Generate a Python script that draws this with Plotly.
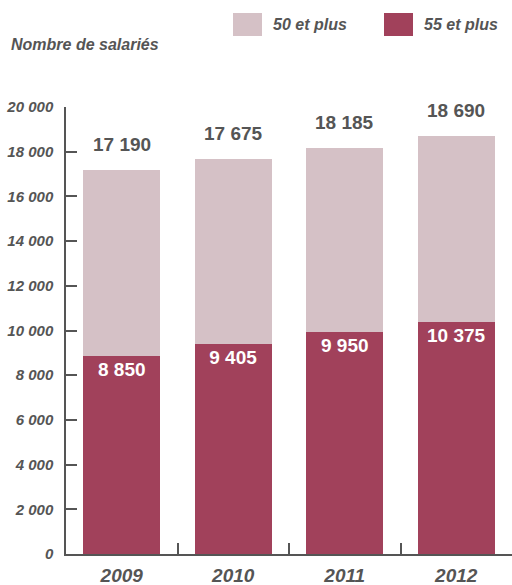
import plotly.graph_objects as go

years = ["2009", "2010", "2011", "2012"]
plus55 = [8850, 9405, 9950, 10375]
plus50 = [17190, 17675, 18185, 18690]
ytick_vals = list(range(0, 20001, 2000))
ytick_text = ["0", "2 000", "4 000", "6 000", "8 000", "10 000", "12 000",
              "14 000", "16 000", "18 000", "20 000"]

def fmt(v):
    return f"{v:,}".replace(",", " ")

DARK = "#a1415b"
LIGHT = "#d5c1c6"
GRAY = "#555555"
FONT = "Liberation Sans, Arial, sans-serif"

W, H = 512, 585
L, R, T, B = 66, 0, 107, 31
PW, PH = W - L - R, H - T - B

def px(x):
    return (x - L) / PW

def py(y):
    return (H - B - y) / PH

top_seg = [t - b for t, b in zip(plus50, plus55)]

fig = go.Figure()
fig.add_trace(go.Bar(
    x=years, y=plus55, name="55 et plus", marker_color=DARK, marker_line_width=0,
    width=0.69, text=[fmt(v) for v in plus55], textposition="inside",
    insidetextanchor="end", constraintext="none",
    textfont=dict(color="white", size=19, family=FONT, weight="bold"),
))
fig.add_trace(go.Bar(
    x=years, y=top_seg, name="50 et plus", marker_color=LIGHT, marker_line_width=0,
    width=0.69, hoverinfo="skip",
))

for i, v in enumerate(plus50):
    fig.add_annotation(xref="x", yref="y", x=i, y=v, text=fmt(v), showarrow=False,
                       yanchor="bottom", yshift=13,
                       font=dict(size=19, color=GRAY, family=FONT, weight="bold"))

# custom legend
for x0, x1, col, label in [(233, 262, LIGHT, "50 et plus"), (384, 413, DARK, "55 et plus")]:
    fig.add_shape(type="rect", xref="paper", yref="paper", x0=px(x0), x1=px(x1),
                  y0=py(36), y1=py(13), fillcolor=col, line_width=0, layer="above")
    fig.add_annotation(xref="paper", yref="paper", x=px(x1 + 9), y=py(25), text=label,
                       showarrow=False, xanchor="left", yanchor="middle",
                       font=dict(size=16, color=GRAY, family=FONT, weight="bold", style="italic"))

fig.add_annotation(xref="paper", yref="paper", x=px(9), y=py(45), text="Nombre de salariés",
                   showarrow=False, xanchor="left", yanchor="middle",
                   font=dict(size=16, color=GRAY, family=FONT, weight="bold", style="italic"))

fig.update_layout(
    width=W, height=H, margin=dict(l=L, r=R, t=T, b=B),
    barmode="stack", showlegend=False, plot_bgcolor="white", paper_bgcolor="white",
    hovermode=False,
    xaxis=dict(type="category", range=[-0.5, 3.5], showgrid=False, zeroline=False,
               automargin=False,
               showline=True, linecolor=GRAY, linewidth=1.5,
               ticks="inside", tickson="boundaries", ticklen=11, tickwidth=1.5, tickcolor=GRAY,
               ticklabelstandoff=3,
               tickfont=dict(size=19, color=GRAY, family=FONT, weight="bold", style="italic")),
    yaxis=dict(range=[0, 20000], showgrid=False, zeroline=False, showline=True,
               automargin=False,
               linecolor=GRAY, linewidth=1.5, ticks="inside", ticklen=11, tickwidth=1.5,
               tickcolor=GRAY, tickvals=ytick_vals, ticktext=ytick_text,
               ticklabelstandoff=8,
               tickfont=dict(size=15, color=GRAY, family=FONT, weight="bold", style="italic")),
)

fig.write_html("out.html", config={"displayModeBar": False},
               post_script="document.body.style.margin='0';document.body.style.overflow='hidden';")
